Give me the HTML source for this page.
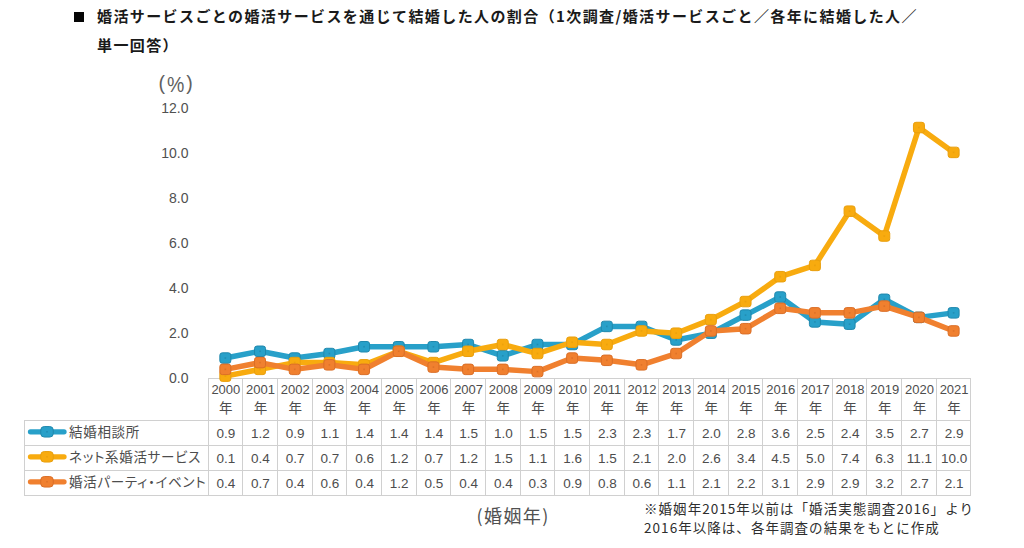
<!DOCTYPE html>
<html lang="ja"><head><meta charset="utf-8">
<style>
html,body{margin:0;padding:0;background:#fff;}
body{width:1024px;height:548px;position:relative;overflow:hidden;}
.a{position:absolute;white-space:nowrap;}
.t{font-family:"Noto Sans CJK JP",sans-serif;font-weight:700;font-size:15px;letter-spacing:1.4px;color:#1a1a1a;line-height:20px;}
.yl{font-family:"Liberation Sans",sans-serif;font-size:14px;color:#505050;text-align:right;width:40px;line-height:16px;}
.hd{font-family:"Liberation Sans","Noto Sans CJK JP",sans-serif;font-size:13px;color:#4d4d4d;text-align:center;line-height:16px;}
.hd2{font-family:"Noto Sans CJK JP",sans-serif;font-size:13.5px;color:#4d4d4d;text-align:center;line-height:16px;}
.v{font-family:"Liberation Sans",sans-serif;font-size:13.5px;color:#4d4d4d;text-align:center;line-height:16px;}
.lb{font-family:"Noto Sans CJK JP",sans-serif;font-size:13.5px;letter-spacing:0.7px;color:#4d4d4d;line-height:18px;font-feature-settings:"palt";}
.nt{font-family:"Noto Sans CJK JP",sans-serif;font-size:13.5px;letter-spacing:1.05px;color:#2e2e2e;line-height:18.5px;font-weight:400;}
.ax{font-family:"Noto Sans CJK JP",sans-serif;font-size:18px;letter-spacing:1.4px;color:#505050;line-height:22px;}
.pc{font-family:"Liberation Sans",sans-serif;font-size:19.5px;color:#606060;line-height:22px;}
svg{position:absolute;left:0;top:0;}
</style></head><body>

<svg width="1024" height="548" viewBox="0 0 1024 548"><g stroke="#d0d0d0" stroke-width="1" fill="none" shape-rendering="crispEdges">
<line x1="208.0" y1="378.5" x2="970.96" y2="378.5"/>
<line x1="24.0" y1="420.5" x2="970.96" y2="420.5"/>
<line x1="24.0" y1="445.5" x2="970.96" y2="445.5"/>
<line x1="24.0" y1="470.5" x2="970.96" y2="470.5"/>
<line x1="24.0" y1="495.5" x2="970.96" y2="495.5"/>
<line x1="208.5" y1="378.0" x2="208.5" y2="496.0"/>
<line x1="242.5" y1="378.0" x2="242.5" y2="496.0"/>
<line x1="277.5" y1="378.0" x2="277.5" y2="496.0"/>
<line x1="312.5" y1="378.0" x2="312.5" y2="496.0"/>
<line x1="346.5" y1="378.0" x2="346.5" y2="496.0"/>
<line x1="381.5" y1="378.0" x2="381.5" y2="496.0"/>
<line x1="416.5" y1="378.0" x2="416.5" y2="496.0"/>
<line x1="450.5" y1="378.0" x2="450.5" y2="496.0"/>
<line x1="485.5" y1="378.0" x2="485.5" y2="496.0"/>
<line x1="520.5" y1="378.0" x2="520.5" y2="496.0"/>
<line x1="554.5" y1="378.0" x2="554.5" y2="496.0"/>
<line x1="589.5" y1="378.0" x2="589.5" y2="496.0"/>
<line x1="624.5" y1="378.0" x2="624.5" y2="496.0"/>
<line x1="658.5" y1="378.0" x2="658.5" y2="496.0"/>
<line x1="693.5" y1="378.0" x2="693.5" y2="496.0"/>
<line x1="728.5" y1="378.0" x2="728.5" y2="496.0"/>
<line x1="762.5" y1="378.0" x2="762.5" y2="496.0"/>
<line x1="797.5" y1="378.0" x2="797.5" y2="496.0"/>
<line x1="832.5" y1="378.0" x2="832.5" y2="496.0"/>
<line x1="866.5" y1="378.0" x2="866.5" y2="496.0"/>
<line x1="901.5" y1="378.0" x2="901.5" y2="496.0"/>
<line x1="936.5" y1="378.0" x2="936.5" y2="496.0"/>
<line x1="970.5" y1="378.0" x2="970.5" y2="496.0"/>
<line x1="24.5" y1="420.0" x2="24.5" y2="496.0"/>
</g>
<polyline points="225.34,358.06 260.02,351.28 294.70,358.06 329.38,353.54 364.06,346.76 398.74,346.76 433.42,346.76 468.10,344.50 502.78,355.80 537.46,344.50 572.14,344.50 606.82,326.42 641.50,326.42 676.18,339.98 710.86,333.20 745.54,315.12 780.22,297.04 814.90,321.90 849.58,324.16 884.26,299.30 918.94,317.38 953.62,312.86" fill="none" stroke="#28a0c9" stroke-width="5.5" stroke-linejoin="round" stroke-linecap="round"/>
<rect x="219.84" y="352.81" width="11.0" height="10.5" rx="2.5" fill="#28a0c9" stroke="#2088ad" stroke-width="1"/>
<rect x="224.54" y="357.26" width="1.6" height="1.6" fill="#2088ad" opacity="0.8"/>
<rect x="254.52" y="346.03" width="11.0" height="10.5" rx="2.5" fill="#28a0c9" stroke="#2088ad" stroke-width="1"/>
<rect x="259.22" y="350.48" width="1.6" height="1.6" fill="#2088ad" opacity="0.8"/>
<rect x="289.20" y="352.81" width="11.0" height="10.5" rx="2.5" fill="#28a0c9" stroke="#2088ad" stroke-width="1"/>
<rect x="293.90" y="357.26" width="1.6" height="1.6" fill="#2088ad" opacity="0.8"/>
<rect x="323.88" y="348.29" width="11.0" height="10.5" rx="2.5" fill="#28a0c9" stroke="#2088ad" stroke-width="1"/>
<rect x="328.58" y="352.74" width="1.6" height="1.6" fill="#2088ad" opacity="0.8"/>
<rect x="358.56" y="341.51" width="11.0" height="10.5" rx="2.5" fill="#28a0c9" stroke="#2088ad" stroke-width="1"/>
<rect x="363.26" y="345.96" width="1.6" height="1.6" fill="#2088ad" opacity="0.8"/>
<rect x="393.24" y="341.51" width="11.0" height="10.5" rx="2.5" fill="#28a0c9" stroke="#2088ad" stroke-width="1"/>
<rect x="397.94" y="345.96" width="1.6" height="1.6" fill="#2088ad" opacity="0.8"/>
<rect x="427.92" y="341.51" width="11.0" height="10.5" rx="2.5" fill="#28a0c9" stroke="#2088ad" stroke-width="1"/>
<rect x="432.62" y="345.96" width="1.6" height="1.6" fill="#2088ad" opacity="0.8"/>
<rect x="462.60" y="339.25" width="11.0" height="10.5" rx="2.5" fill="#28a0c9" stroke="#2088ad" stroke-width="1"/>
<rect x="467.30" y="343.70" width="1.6" height="1.6" fill="#2088ad" opacity="0.8"/>
<rect x="497.28" y="350.55" width="11.0" height="10.5" rx="2.5" fill="#28a0c9" stroke="#2088ad" stroke-width="1"/>
<rect x="501.98" y="355.00" width="1.6" height="1.6" fill="#2088ad" opacity="0.8"/>
<rect x="531.96" y="339.25" width="11.0" height="10.5" rx="2.5" fill="#28a0c9" stroke="#2088ad" stroke-width="1"/>
<rect x="536.66" y="343.70" width="1.6" height="1.6" fill="#2088ad" opacity="0.8"/>
<rect x="566.64" y="339.25" width="11.0" height="10.5" rx="2.5" fill="#28a0c9" stroke="#2088ad" stroke-width="1"/>
<rect x="571.34" y="343.70" width="1.6" height="1.6" fill="#2088ad" opacity="0.8"/>
<rect x="601.32" y="321.17" width="11.0" height="10.5" rx="2.5" fill="#28a0c9" stroke="#2088ad" stroke-width="1"/>
<rect x="606.02" y="325.62" width="1.6" height="1.6" fill="#2088ad" opacity="0.8"/>
<rect x="636.00" y="321.17" width="11.0" height="10.5" rx="2.5" fill="#28a0c9" stroke="#2088ad" stroke-width="1"/>
<rect x="640.70" y="325.62" width="1.6" height="1.6" fill="#2088ad" opacity="0.8"/>
<rect x="670.68" y="334.73" width="11.0" height="10.5" rx="2.5" fill="#28a0c9" stroke="#2088ad" stroke-width="1"/>
<rect x="675.38" y="339.18" width="1.6" height="1.6" fill="#2088ad" opacity="0.8"/>
<rect x="705.36" y="327.95" width="11.0" height="10.5" rx="2.5" fill="#28a0c9" stroke="#2088ad" stroke-width="1"/>
<rect x="710.06" y="332.40" width="1.6" height="1.6" fill="#2088ad" opacity="0.8"/>
<rect x="740.04" y="309.87" width="11.0" height="10.5" rx="2.5" fill="#28a0c9" stroke="#2088ad" stroke-width="1"/>
<rect x="744.74" y="314.32" width="1.6" height="1.6" fill="#2088ad" opacity="0.8"/>
<rect x="774.72" y="291.79" width="11.0" height="10.5" rx="2.5" fill="#28a0c9" stroke="#2088ad" stroke-width="1"/>
<rect x="779.42" y="296.24" width="1.6" height="1.6" fill="#2088ad" opacity="0.8"/>
<rect x="809.40" y="316.65" width="11.0" height="10.5" rx="2.5" fill="#28a0c9" stroke="#2088ad" stroke-width="1"/>
<rect x="814.10" y="321.10" width="1.6" height="1.6" fill="#2088ad" opacity="0.8"/>
<rect x="844.08" y="318.91" width="11.0" height="10.5" rx="2.5" fill="#28a0c9" stroke="#2088ad" stroke-width="1"/>
<rect x="848.78" y="323.36" width="1.6" height="1.6" fill="#2088ad" opacity="0.8"/>
<rect x="878.76" y="294.05" width="11.0" height="10.5" rx="2.5" fill="#28a0c9" stroke="#2088ad" stroke-width="1"/>
<rect x="883.46" y="298.50" width="1.6" height="1.6" fill="#2088ad" opacity="0.8"/>
<rect x="913.44" y="312.13" width="11.0" height="10.5" rx="2.5" fill="#28a0c9" stroke="#2088ad" stroke-width="1"/>
<rect x="918.14" y="316.58" width="1.6" height="1.6" fill="#2088ad" opacity="0.8"/>
<rect x="948.12" y="307.61" width="11.0" height="10.5" rx="2.5" fill="#28a0c9" stroke="#2088ad" stroke-width="1"/>
<rect x="952.82" y="312.06" width="1.6" height="1.6" fill="#2088ad" opacity="0.8"/>
<polyline points="225.34,376.14 260.02,369.36 294.70,362.58 329.38,362.58 364.06,364.84 398.74,351.28 433.42,362.58 468.10,351.28 502.78,344.50 537.46,353.54 572.14,342.24 606.82,344.50 641.50,330.94 676.18,333.20 710.86,319.64 745.54,301.56 780.22,276.70 814.90,265.40 849.58,211.16 884.26,236.02 918.94,127.54 953.62,152.40" fill="none" stroke="#f8ab0f" stroke-width="5.5" stroke-linejoin="round" stroke-linecap="round"/>
<rect x="219.84" y="370.89" width="11.0" height="10.5" rx="2.5" fill="#f8ab0f" stroke="#e99f0d" stroke-width="1"/>
<rect x="224.54" y="375.34" width="1.6" height="1.6" fill="#e99f0d" opacity="0.8"/>
<rect x="254.52" y="364.11" width="11.0" height="10.5" rx="2.5" fill="#f8ab0f" stroke="#e99f0d" stroke-width="1"/>
<rect x="259.22" y="368.56" width="1.6" height="1.6" fill="#e99f0d" opacity="0.8"/>
<rect x="289.20" y="357.33" width="11.0" height="10.5" rx="2.5" fill="#f8ab0f" stroke="#e99f0d" stroke-width="1"/>
<rect x="293.90" y="361.78" width="1.6" height="1.6" fill="#e99f0d" opacity="0.8"/>
<rect x="323.88" y="357.33" width="11.0" height="10.5" rx="2.5" fill="#f8ab0f" stroke="#e99f0d" stroke-width="1"/>
<rect x="328.58" y="361.78" width="1.6" height="1.6" fill="#e99f0d" opacity="0.8"/>
<rect x="358.56" y="359.59" width="11.0" height="10.5" rx="2.5" fill="#f8ab0f" stroke="#e99f0d" stroke-width="1"/>
<rect x="363.26" y="364.04" width="1.6" height="1.6" fill="#e99f0d" opacity="0.8"/>
<rect x="393.24" y="346.03" width="11.0" height="10.5" rx="2.5" fill="#f8ab0f" stroke="#e99f0d" stroke-width="1"/>
<rect x="397.94" y="350.48" width="1.6" height="1.6" fill="#e99f0d" opacity="0.8"/>
<rect x="427.92" y="357.33" width="11.0" height="10.5" rx="2.5" fill="#f8ab0f" stroke="#e99f0d" stroke-width="1"/>
<rect x="432.62" y="361.78" width="1.6" height="1.6" fill="#e99f0d" opacity="0.8"/>
<rect x="462.60" y="346.03" width="11.0" height="10.5" rx="2.5" fill="#f8ab0f" stroke="#e99f0d" stroke-width="1"/>
<rect x="467.30" y="350.48" width="1.6" height="1.6" fill="#e99f0d" opacity="0.8"/>
<rect x="497.28" y="339.25" width="11.0" height="10.5" rx="2.5" fill="#f8ab0f" stroke="#e99f0d" stroke-width="1"/>
<rect x="501.98" y="343.70" width="1.6" height="1.6" fill="#e99f0d" opacity="0.8"/>
<rect x="531.96" y="348.29" width="11.0" height="10.5" rx="2.5" fill="#f8ab0f" stroke="#e99f0d" stroke-width="1"/>
<rect x="536.66" y="352.74" width="1.6" height="1.6" fill="#e99f0d" opacity="0.8"/>
<rect x="566.64" y="336.99" width="11.0" height="10.5" rx="2.5" fill="#f8ab0f" stroke="#e99f0d" stroke-width="1"/>
<rect x="571.34" y="341.44" width="1.6" height="1.6" fill="#e99f0d" opacity="0.8"/>
<rect x="601.32" y="339.25" width="11.0" height="10.5" rx="2.5" fill="#f8ab0f" stroke="#e99f0d" stroke-width="1"/>
<rect x="606.02" y="343.70" width="1.6" height="1.6" fill="#e99f0d" opacity="0.8"/>
<rect x="636.00" y="325.69" width="11.0" height="10.5" rx="2.5" fill="#f8ab0f" stroke="#e99f0d" stroke-width="1"/>
<rect x="640.70" y="330.14" width="1.6" height="1.6" fill="#e99f0d" opacity="0.8"/>
<rect x="670.68" y="327.95" width="11.0" height="10.5" rx="2.5" fill="#f8ab0f" stroke="#e99f0d" stroke-width="1"/>
<rect x="675.38" y="332.40" width="1.6" height="1.6" fill="#e99f0d" opacity="0.8"/>
<rect x="705.36" y="314.39" width="11.0" height="10.5" rx="2.5" fill="#f8ab0f" stroke="#e99f0d" stroke-width="1"/>
<rect x="710.06" y="318.84" width="1.6" height="1.6" fill="#e99f0d" opacity="0.8"/>
<rect x="740.04" y="296.31" width="11.0" height="10.5" rx="2.5" fill="#f8ab0f" stroke="#e99f0d" stroke-width="1"/>
<rect x="744.74" y="300.76" width="1.6" height="1.6" fill="#e99f0d" opacity="0.8"/>
<rect x="774.72" y="271.45" width="11.0" height="10.5" rx="2.5" fill="#f8ab0f" stroke="#e99f0d" stroke-width="1"/>
<rect x="779.42" y="275.90" width="1.6" height="1.6" fill="#e99f0d" opacity="0.8"/>
<rect x="809.40" y="260.15" width="11.0" height="10.5" rx="2.5" fill="#f8ab0f" stroke="#e99f0d" stroke-width="1"/>
<rect x="814.10" y="264.60" width="1.6" height="1.6" fill="#e99f0d" opacity="0.8"/>
<rect x="844.08" y="205.91" width="11.0" height="10.5" rx="2.5" fill="#f8ab0f" stroke="#e99f0d" stroke-width="1"/>
<rect x="848.78" y="210.36" width="1.6" height="1.6" fill="#e99f0d" opacity="0.8"/>
<rect x="878.76" y="230.77" width="11.0" height="10.5" rx="2.5" fill="#f8ab0f" stroke="#e99f0d" stroke-width="1"/>
<rect x="883.46" y="235.22" width="1.6" height="1.6" fill="#e99f0d" opacity="0.8"/>
<rect x="913.44" y="122.29" width="11.0" height="10.5" rx="2.5" fill="#f8ab0f" stroke="#e99f0d" stroke-width="1"/>
<rect x="918.14" y="126.74" width="1.6" height="1.6" fill="#e99f0d" opacity="0.8"/>
<rect x="948.12" y="147.15" width="11.0" height="10.5" rx="2.5" fill="#f8ab0f" stroke="#e99f0d" stroke-width="1"/>
<rect x="952.82" y="151.60" width="1.6" height="1.6" fill="#e99f0d" opacity="0.8"/>
<polyline points="225.34,369.36 260.02,362.58 294.70,369.36 329.38,364.84 364.06,369.36 398.74,351.28 433.42,367.10 468.10,369.36 502.78,369.36 537.46,371.62 572.14,358.06 606.82,360.32 641.50,364.84 676.18,353.54 710.86,330.94 745.54,328.68 780.22,308.34 814.90,312.86 849.58,312.86 884.26,306.08 918.94,317.38 953.62,330.94" fill="none" stroke="#f0802f" stroke-width="5.5" stroke-linejoin="round" stroke-linecap="round"/>
<rect x="219.84" y="364.11" width="11.0" height="10.5" rx="2.5" fill="#f0802f" stroke="#da6e27" stroke-width="1"/>
<rect x="224.54" y="368.56" width="1.6" height="1.6" fill="#da6e27" opacity="0.8"/>
<rect x="254.52" y="357.33" width="11.0" height="10.5" rx="2.5" fill="#f0802f" stroke="#da6e27" stroke-width="1"/>
<rect x="259.22" y="361.78" width="1.6" height="1.6" fill="#da6e27" opacity="0.8"/>
<rect x="289.20" y="364.11" width="11.0" height="10.5" rx="2.5" fill="#f0802f" stroke="#da6e27" stroke-width="1"/>
<rect x="293.90" y="368.56" width="1.6" height="1.6" fill="#da6e27" opacity="0.8"/>
<rect x="323.88" y="359.59" width="11.0" height="10.5" rx="2.5" fill="#f0802f" stroke="#da6e27" stroke-width="1"/>
<rect x="328.58" y="364.04" width="1.6" height="1.6" fill="#da6e27" opacity="0.8"/>
<rect x="358.56" y="364.11" width="11.0" height="10.5" rx="2.5" fill="#f0802f" stroke="#da6e27" stroke-width="1"/>
<rect x="363.26" y="368.56" width="1.6" height="1.6" fill="#da6e27" opacity="0.8"/>
<rect x="393.24" y="346.03" width="11.0" height="10.5" rx="2.5" fill="#f0802f" stroke="#da6e27" stroke-width="1"/>
<rect x="397.94" y="350.48" width="1.6" height="1.6" fill="#da6e27" opacity="0.8"/>
<rect x="427.92" y="361.85" width="11.0" height="10.5" rx="2.5" fill="#f0802f" stroke="#da6e27" stroke-width="1"/>
<rect x="432.62" y="366.30" width="1.6" height="1.6" fill="#da6e27" opacity="0.8"/>
<rect x="462.60" y="364.11" width="11.0" height="10.5" rx="2.5" fill="#f0802f" stroke="#da6e27" stroke-width="1"/>
<rect x="467.30" y="368.56" width="1.6" height="1.6" fill="#da6e27" opacity="0.8"/>
<rect x="497.28" y="364.11" width="11.0" height="10.5" rx="2.5" fill="#f0802f" stroke="#da6e27" stroke-width="1"/>
<rect x="501.98" y="368.56" width="1.6" height="1.6" fill="#da6e27" opacity="0.8"/>
<rect x="531.96" y="366.37" width="11.0" height="10.5" rx="2.5" fill="#f0802f" stroke="#da6e27" stroke-width="1"/>
<rect x="536.66" y="370.82" width="1.6" height="1.6" fill="#da6e27" opacity="0.8"/>
<rect x="566.64" y="352.81" width="11.0" height="10.5" rx="2.5" fill="#f0802f" stroke="#da6e27" stroke-width="1"/>
<rect x="571.34" y="357.26" width="1.6" height="1.6" fill="#da6e27" opacity="0.8"/>
<rect x="601.32" y="355.07" width="11.0" height="10.5" rx="2.5" fill="#f0802f" stroke="#da6e27" stroke-width="1"/>
<rect x="606.02" y="359.52" width="1.6" height="1.6" fill="#da6e27" opacity="0.8"/>
<rect x="636.00" y="359.59" width="11.0" height="10.5" rx="2.5" fill="#f0802f" stroke="#da6e27" stroke-width="1"/>
<rect x="640.70" y="364.04" width="1.6" height="1.6" fill="#da6e27" opacity="0.8"/>
<rect x="670.68" y="348.29" width="11.0" height="10.5" rx="2.5" fill="#f0802f" stroke="#da6e27" stroke-width="1"/>
<rect x="675.38" y="352.74" width="1.6" height="1.6" fill="#da6e27" opacity="0.8"/>
<rect x="705.36" y="325.69" width="11.0" height="10.5" rx="2.5" fill="#f0802f" stroke="#da6e27" stroke-width="1"/>
<rect x="710.06" y="330.14" width="1.6" height="1.6" fill="#da6e27" opacity="0.8"/>
<rect x="740.04" y="323.43" width="11.0" height="10.5" rx="2.5" fill="#f0802f" stroke="#da6e27" stroke-width="1"/>
<rect x="744.74" y="327.88" width="1.6" height="1.6" fill="#da6e27" opacity="0.8"/>
<rect x="774.72" y="303.09" width="11.0" height="10.5" rx="2.5" fill="#f0802f" stroke="#da6e27" stroke-width="1"/>
<rect x="779.42" y="307.54" width="1.6" height="1.6" fill="#da6e27" opacity="0.8"/>
<rect x="809.40" y="307.61" width="11.0" height="10.5" rx="2.5" fill="#f0802f" stroke="#da6e27" stroke-width="1"/>
<rect x="814.10" y="312.06" width="1.6" height="1.6" fill="#da6e27" opacity="0.8"/>
<rect x="844.08" y="307.61" width="11.0" height="10.5" rx="2.5" fill="#f0802f" stroke="#da6e27" stroke-width="1"/>
<rect x="848.78" y="312.06" width="1.6" height="1.6" fill="#da6e27" opacity="0.8"/>
<rect x="878.76" y="300.83" width="11.0" height="10.5" rx="2.5" fill="#f0802f" stroke="#da6e27" stroke-width="1"/>
<rect x="883.46" y="305.28" width="1.6" height="1.6" fill="#da6e27" opacity="0.8"/>
<rect x="913.44" y="312.13" width="11.0" height="10.5" rx="2.5" fill="#f0802f" stroke="#da6e27" stroke-width="1"/>
<rect x="918.14" y="316.58" width="1.6" height="1.6" fill="#da6e27" opacity="0.8"/>
<rect x="948.12" y="325.69" width="11.0" height="10.5" rx="2.5" fill="#f0802f" stroke="#da6e27" stroke-width="1"/>
<rect x="952.82" y="330.14" width="1.6" height="1.6" fill="#da6e27" opacity="0.8"/>
<line x1="30.5" y1="431.8" x2="64" y2="431.8" stroke="#28a0c9" stroke-width="5.3" stroke-linecap="round"/>
<rect x="40.75" y="426.55" width="12.5" height="10.5" rx="3.5" fill="#28a0c9" stroke="#2088ad" stroke-width="1"/>
<rect x="46.2" y="431.0" width="1.6" height="1.6" fill="#2088ad" opacity="0.8"/>
<line x1="30.5" y1="456.8" x2="64" y2="456.8" stroke="#f8ab0f" stroke-width="5.3" stroke-linecap="round"/>
<rect x="40.75" y="451.55" width="12.5" height="10.5" rx="3.5" fill="#f8ab0f" stroke="#e99f0d" stroke-width="1"/>
<rect x="46.2" y="456.0" width="1.6" height="1.6" fill="#e99f0d" opacity="0.8"/>
<line x1="30.5" y1="481.8" x2="64" y2="481.8" stroke="#f0802f" stroke-width="5.3" stroke-linecap="round"/>
<rect x="40.75" y="476.55" width="12.5" height="10.5" rx="3.5" fill="#f0802f" stroke="#da6e27" stroke-width="1"/>
<rect x="46.2" y="481.0" width="1.6" height="1.6" fill="#da6e27" opacity="0.8"/></svg>
<div class="a" style="left:73.8px;top:12px;width:9.9px;height:9.6px;background:#050505;"></div>
<div class="a t" style="left:97px;top:6px;">婚活サービスごとの婚活サービスを通じて結婚した人の割合（1次調査/婚活サービスごと／各年に結婚した人／</div>
<div class="a t" style="left:97px;top:34.5px;">単一回答）</div>
<div class="a pc" style="left:158.5px;top:72px;">(</div>
<div class="a pc" style="left:167px;top:71.8px;transform:scaleY(1.1);transform-origin:0 0;">%</div>
<div class="a pc" style="left:186.3px;top:72px;">)</div>
<div class="a yl" style="left:148.5px;top:99.8px;">12.0</div>
<div class="a yl" style="left:148.5px;top:144.9px;">10.0</div>
<div class="a yl" style="left:148.5px;top:190.0px;">8.0</div>
<div class="a yl" style="left:148.5px;top:235.1px;">6.0</div>
<div class="a yl" style="left:148.5px;top:280.2px;">4.0</div>
<div class="a yl" style="left:148.5px;top:325.3px;">2.0</div>
<div class="a yl" style="left:148.5px;top:370.4px;">0.0</div>
<div class="a hd" style="left:208.00px;top:382px;width:35.68px;">2000</div>
<div class="a hd2" style="left:208.00px;top:399px;width:35.68px;">年</div>
<div class="a v" style="left:208.00px;top:426.0px;width:35.68px;">0.9</div>
<div class="a v" style="left:208.00px;top:451.0px;width:35.68px;">0.1</div>
<div class="a v" style="left:208.00px;top:476.0px;width:35.68px;">0.4</div>
<div class="a hd" style="left:242.68px;top:382px;width:35.68px;">2001</div>
<div class="a hd2" style="left:242.68px;top:399px;width:35.68px;">年</div>
<div class="a v" style="left:242.68px;top:426.0px;width:35.68px;">1.2</div>
<div class="a v" style="left:242.68px;top:451.0px;width:35.68px;">0.4</div>
<div class="a v" style="left:242.68px;top:476.0px;width:35.68px;">0.7</div>
<div class="a hd" style="left:277.36px;top:382px;width:35.68px;">2002</div>
<div class="a hd2" style="left:277.36px;top:399px;width:35.68px;">年</div>
<div class="a v" style="left:277.36px;top:426.0px;width:35.68px;">0.9</div>
<div class="a v" style="left:277.36px;top:451.0px;width:35.68px;">0.7</div>
<div class="a v" style="left:277.36px;top:476.0px;width:35.68px;">0.4</div>
<div class="a hd" style="left:312.04px;top:382px;width:35.68px;">2003</div>
<div class="a hd2" style="left:312.04px;top:399px;width:35.68px;">年</div>
<div class="a v" style="left:312.04px;top:426.0px;width:35.68px;">1.1</div>
<div class="a v" style="left:312.04px;top:451.0px;width:35.68px;">0.7</div>
<div class="a v" style="left:312.04px;top:476.0px;width:35.68px;">0.6</div>
<div class="a hd" style="left:346.72px;top:382px;width:35.68px;">2004</div>
<div class="a hd2" style="left:346.72px;top:399px;width:35.68px;">年</div>
<div class="a v" style="left:346.72px;top:426.0px;width:35.68px;">1.4</div>
<div class="a v" style="left:346.72px;top:451.0px;width:35.68px;">0.6</div>
<div class="a v" style="left:346.72px;top:476.0px;width:35.68px;">0.4</div>
<div class="a hd" style="left:381.40px;top:382px;width:35.68px;">2005</div>
<div class="a hd2" style="left:381.40px;top:399px;width:35.68px;">年</div>
<div class="a v" style="left:381.40px;top:426.0px;width:35.68px;">1.4</div>
<div class="a v" style="left:381.40px;top:451.0px;width:35.68px;">1.2</div>
<div class="a v" style="left:381.40px;top:476.0px;width:35.68px;">1.2</div>
<div class="a hd" style="left:416.08px;top:382px;width:35.68px;">2006</div>
<div class="a hd2" style="left:416.08px;top:399px;width:35.68px;">年</div>
<div class="a v" style="left:416.08px;top:426.0px;width:35.68px;">1.4</div>
<div class="a v" style="left:416.08px;top:451.0px;width:35.68px;">0.7</div>
<div class="a v" style="left:416.08px;top:476.0px;width:35.68px;">0.5</div>
<div class="a hd" style="left:450.76px;top:382px;width:35.68px;">2007</div>
<div class="a hd2" style="left:450.76px;top:399px;width:35.68px;">年</div>
<div class="a v" style="left:450.76px;top:426.0px;width:35.68px;">1.5</div>
<div class="a v" style="left:450.76px;top:451.0px;width:35.68px;">1.2</div>
<div class="a v" style="left:450.76px;top:476.0px;width:35.68px;">0.4</div>
<div class="a hd" style="left:485.44px;top:382px;width:35.68px;">2008</div>
<div class="a hd2" style="left:485.44px;top:399px;width:35.68px;">年</div>
<div class="a v" style="left:485.44px;top:426.0px;width:35.68px;">1.0</div>
<div class="a v" style="left:485.44px;top:451.0px;width:35.68px;">1.5</div>
<div class="a v" style="left:485.44px;top:476.0px;width:35.68px;">0.4</div>
<div class="a hd" style="left:520.12px;top:382px;width:35.68px;">2009</div>
<div class="a hd2" style="left:520.12px;top:399px;width:35.68px;">年</div>
<div class="a v" style="left:520.12px;top:426.0px;width:35.68px;">1.5</div>
<div class="a v" style="left:520.12px;top:451.0px;width:35.68px;">1.1</div>
<div class="a v" style="left:520.12px;top:476.0px;width:35.68px;">0.3</div>
<div class="a hd" style="left:554.80px;top:382px;width:35.68px;">2010</div>
<div class="a hd2" style="left:554.80px;top:399px;width:35.68px;">年</div>
<div class="a v" style="left:554.80px;top:426.0px;width:35.68px;">1.5</div>
<div class="a v" style="left:554.80px;top:451.0px;width:35.68px;">1.6</div>
<div class="a v" style="left:554.80px;top:476.0px;width:35.68px;">0.9</div>
<div class="a hd" style="left:589.48px;top:382px;width:35.68px;">2011</div>
<div class="a hd2" style="left:589.48px;top:399px;width:35.68px;">年</div>
<div class="a v" style="left:589.48px;top:426.0px;width:35.68px;">2.3</div>
<div class="a v" style="left:589.48px;top:451.0px;width:35.68px;">1.5</div>
<div class="a v" style="left:589.48px;top:476.0px;width:35.68px;">0.8</div>
<div class="a hd" style="left:624.16px;top:382px;width:35.68px;">2012</div>
<div class="a hd2" style="left:624.16px;top:399px;width:35.68px;">年</div>
<div class="a v" style="left:624.16px;top:426.0px;width:35.68px;">2.3</div>
<div class="a v" style="left:624.16px;top:451.0px;width:35.68px;">2.1</div>
<div class="a v" style="left:624.16px;top:476.0px;width:35.68px;">0.6</div>
<div class="a hd" style="left:658.84px;top:382px;width:35.68px;">2013</div>
<div class="a hd2" style="left:658.84px;top:399px;width:35.68px;">年</div>
<div class="a v" style="left:658.84px;top:426.0px;width:35.68px;">1.7</div>
<div class="a v" style="left:658.84px;top:451.0px;width:35.68px;">2.0</div>
<div class="a v" style="left:658.84px;top:476.0px;width:35.68px;">1.1</div>
<div class="a hd" style="left:693.52px;top:382px;width:35.68px;">2014</div>
<div class="a hd2" style="left:693.52px;top:399px;width:35.68px;">年</div>
<div class="a v" style="left:693.52px;top:426.0px;width:35.68px;">2.0</div>
<div class="a v" style="left:693.52px;top:451.0px;width:35.68px;">2.6</div>
<div class="a v" style="left:693.52px;top:476.0px;width:35.68px;">2.1</div>
<div class="a hd" style="left:728.20px;top:382px;width:35.68px;">2015</div>
<div class="a hd2" style="left:728.20px;top:399px;width:35.68px;">年</div>
<div class="a v" style="left:728.20px;top:426.0px;width:35.68px;">2.8</div>
<div class="a v" style="left:728.20px;top:451.0px;width:35.68px;">3.4</div>
<div class="a v" style="left:728.20px;top:476.0px;width:35.68px;">2.2</div>
<div class="a hd" style="left:762.88px;top:382px;width:35.68px;">2016</div>
<div class="a hd2" style="left:762.88px;top:399px;width:35.68px;">年</div>
<div class="a v" style="left:762.88px;top:426.0px;width:35.68px;">3.6</div>
<div class="a v" style="left:762.88px;top:451.0px;width:35.68px;">4.5</div>
<div class="a v" style="left:762.88px;top:476.0px;width:35.68px;">3.1</div>
<div class="a hd" style="left:797.56px;top:382px;width:35.68px;">2017</div>
<div class="a hd2" style="left:797.56px;top:399px;width:35.68px;">年</div>
<div class="a v" style="left:797.56px;top:426.0px;width:35.68px;">2.5</div>
<div class="a v" style="left:797.56px;top:451.0px;width:35.68px;">5.0</div>
<div class="a v" style="left:797.56px;top:476.0px;width:35.68px;">2.9</div>
<div class="a hd" style="left:832.24px;top:382px;width:35.68px;">2018</div>
<div class="a hd2" style="left:832.24px;top:399px;width:35.68px;">年</div>
<div class="a v" style="left:832.24px;top:426.0px;width:35.68px;">2.4</div>
<div class="a v" style="left:832.24px;top:451.0px;width:35.68px;">7.4</div>
<div class="a v" style="left:832.24px;top:476.0px;width:35.68px;">2.9</div>
<div class="a hd" style="left:866.92px;top:382px;width:35.68px;">2019</div>
<div class="a hd2" style="left:866.92px;top:399px;width:35.68px;">年</div>
<div class="a v" style="left:866.92px;top:426.0px;width:35.68px;">3.5</div>
<div class="a v" style="left:866.92px;top:451.0px;width:35.68px;">6.3</div>
<div class="a v" style="left:866.92px;top:476.0px;width:35.68px;">3.2</div>
<div class="a hd" style="left:901.60px;top:382px;width:35.68px;">2020</div>
<div class="a hd2" style="left:901.60px;top:399px;width:35.68px;">年</div>
<div class="a v" style="left:901.60px;top:426.0px;width:35.68px;">2.7</div>
<div class="a v" style="left:901.60px;top:451.0px;width:35.68px;">11.1</div>
<div class="a v" style="left:901.60px;top:476.0px;width:35.68px;">2.7</div>
<div class="a hd" style="left:936.28px;top:382px;width:35.68px;">2021</div>
<div class="a hd2" style="left:936.28px;top:399px;width:35.68px;">年</div>
<div class="a v" style="left:936.28px;top:426.0px;width:35.68px;">2.9</div>
<div class="a v" style="left:936.28px;top:451.0px;width:35.68px;">10.0</div>
<div class="a v" style="left:936.28px;top:476.0px;width:35.68px;">2.1</div>
<div class="a lb" style="left:69px;top:422.0px;">結婚相談所</div>
<div class="a lb" style="left:69px;top:447.0px;">ネット系婚活サービス</div>
<div class="a lb" style="left:69px;top:472.0px;">婚活パーティ・イベント</div>
<div class="a ax" style="left:476.5px;top:504px;">(婚姻年)</div>
<div class="a nt" style="left:644px;top:499px;">※婚姻年2015年以前は「婚活実態調査2016」より<br>2016年以降は、各年調査の結果をもとに作成</div>
</body></html>
